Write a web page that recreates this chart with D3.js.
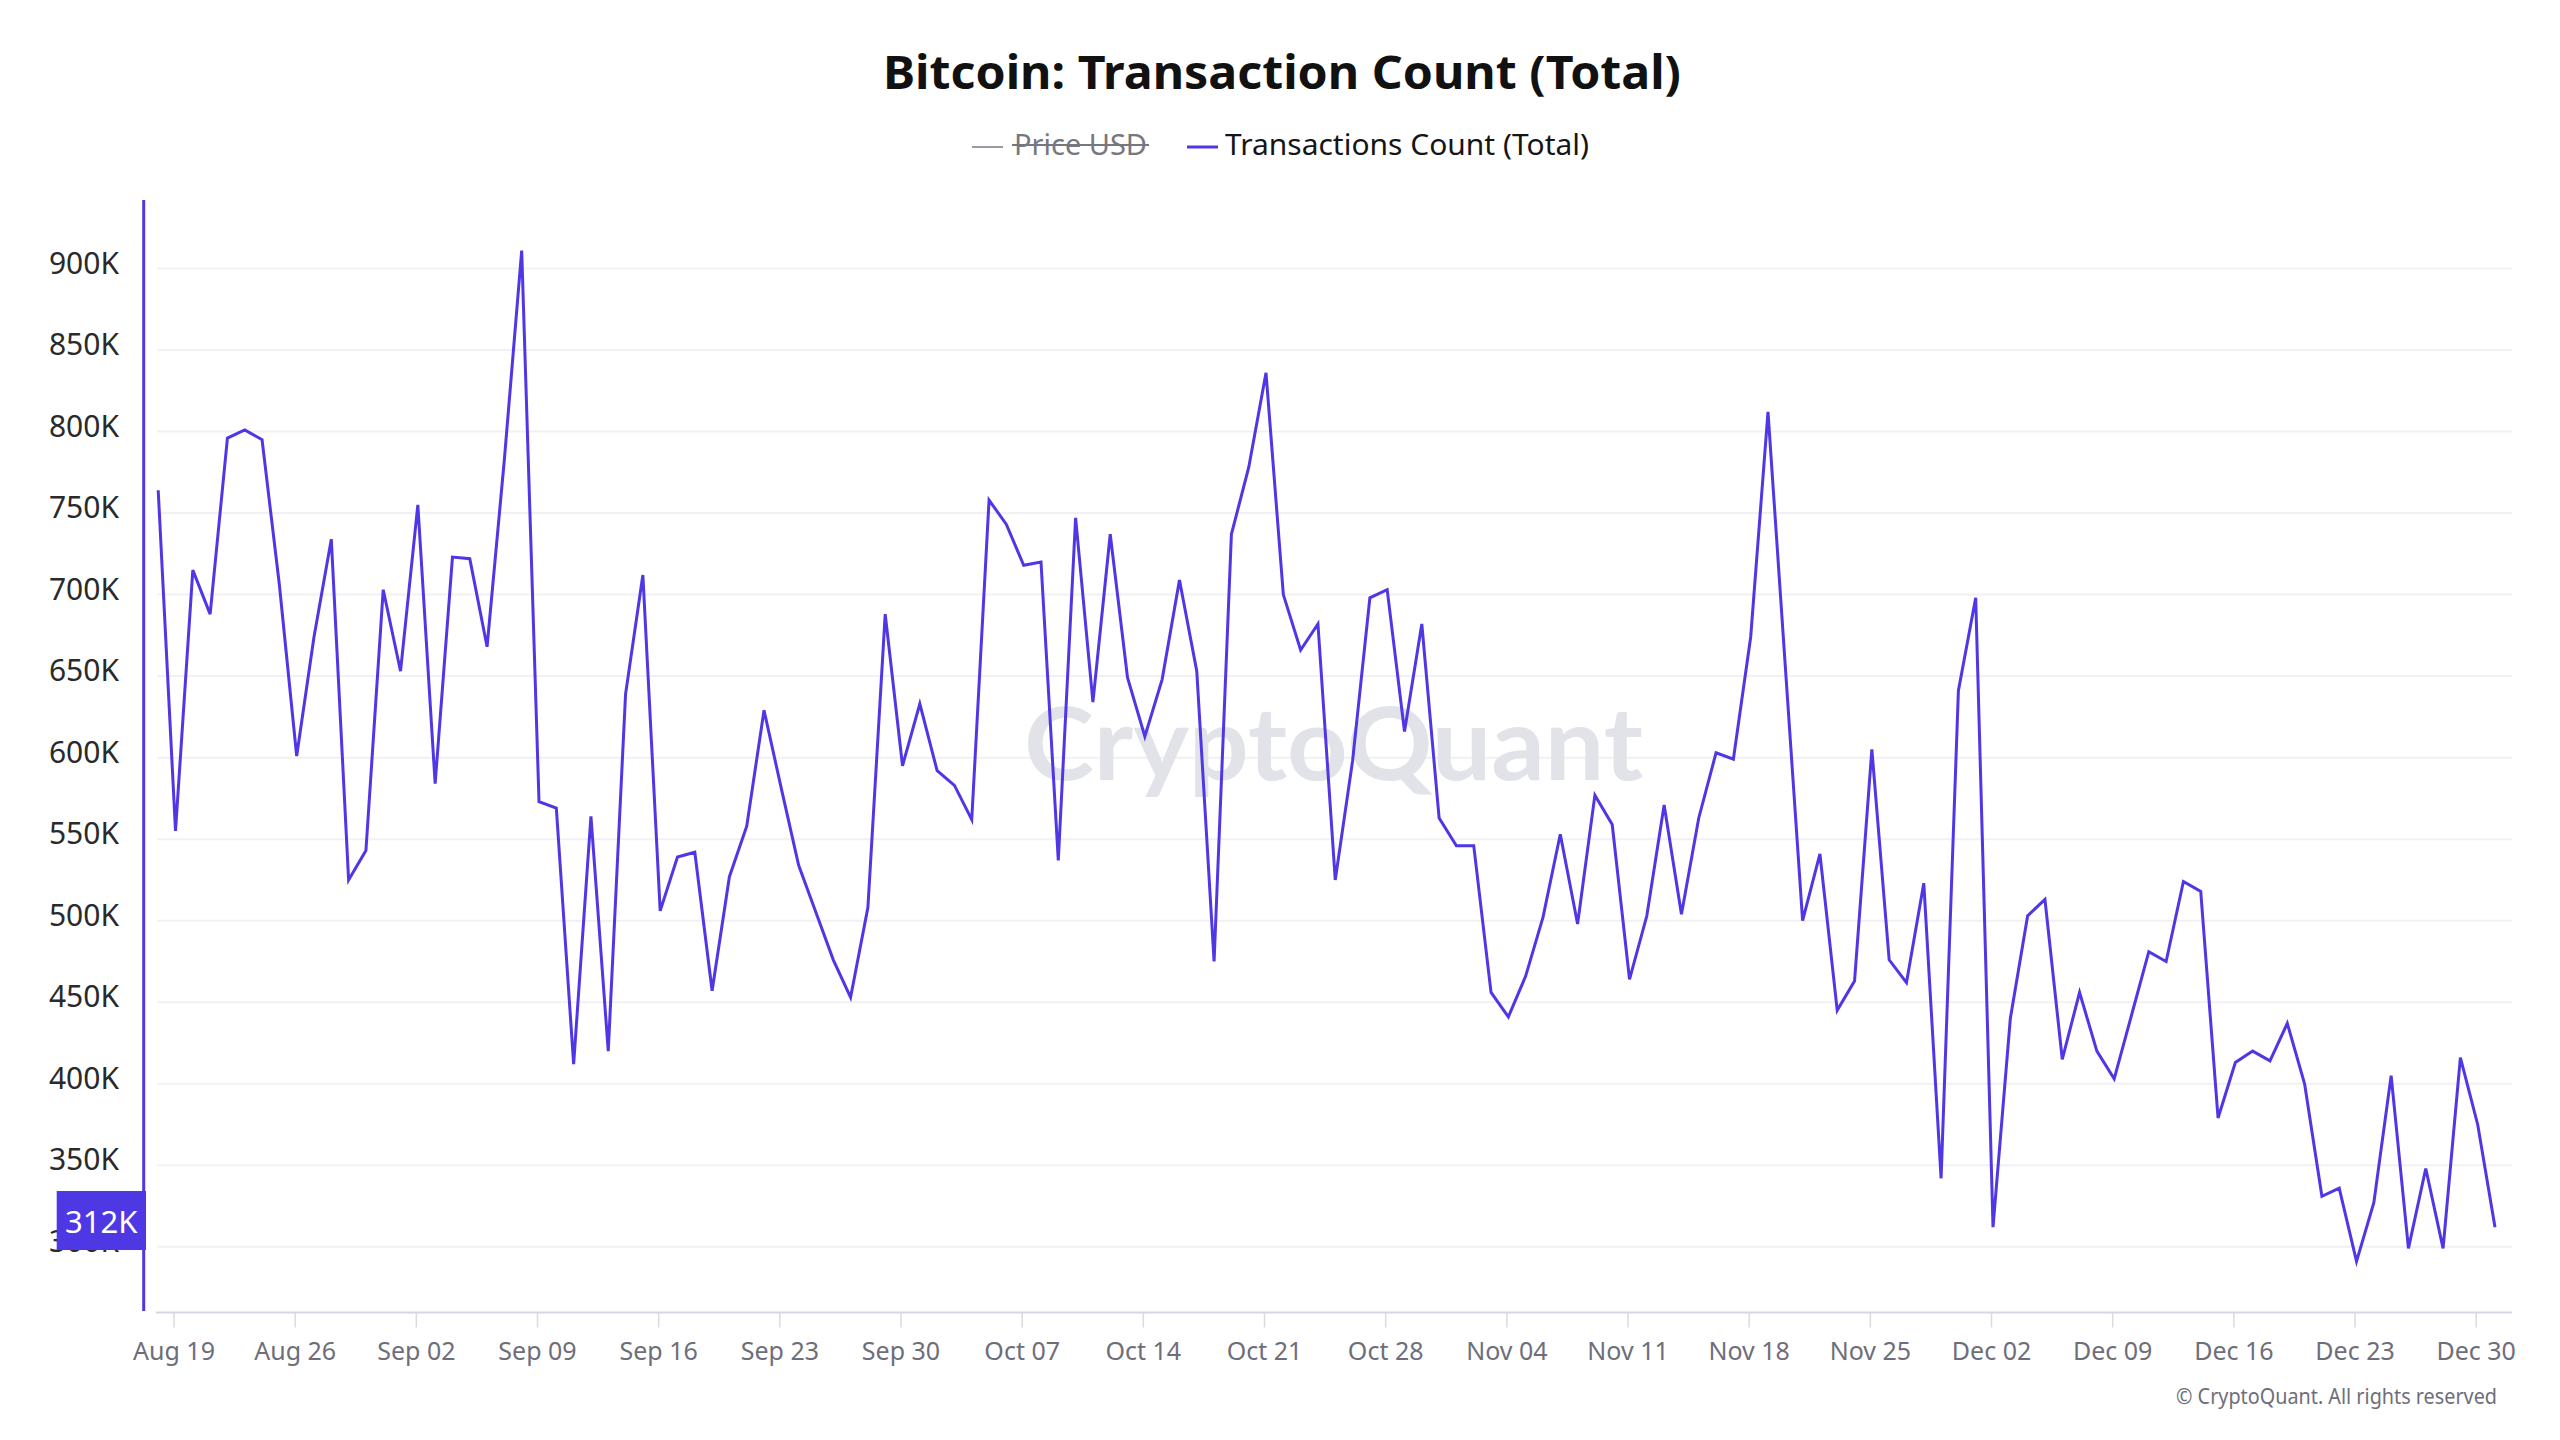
<!DOCTYPE html>
<html>
<head>
<meta charset="utf-8">
<script src="https://cdn.jsdelivr.net/npm/d3@7"></script>
<style>
  html, body { margin: 0; padding: 0; background: #ffffff; }
  svg { display: block; font-family: "Noto Sans", "Open Sans", sans-serif; }
</style>
</head>
<body>
<svg id="chart" width="2560" height="1440"></svg>
<script>
// ---------------- data ----------------
const titleText = "Bitcoin: Transaction Count (Total)";
const legendLabels = ["Price USD", "Transactions Count (Total)"];
const startDate = "2024-08-18";
const endDate = "2025-01-01"; // exclusive
// daily transaction count, thousands (Aug 18 .. Dec 31, 2024)
const txAug = [764, 555, 715, 688, 796, 801, 795, 706, 601, 674, 734, 525, 543, 703];
const txSep = [653, 755, 584, 723, 722, 668, 783, 911, 573, 569, 412, 564, 420, 639, 712,
               506, 539, 542, 457, 527, 558, 629, 581, 534, 505, 476, 453, 508, 688, 595];
const txOct = [633, 592, 583, 562, 758, 743, 718, 720, 537, 747, 634, 737, 649, 613, 648,
               709, 653, 475, 737, 778, 836, 700, 666, 682, 525, 598, 698, 703, 616, 682, 563];
const txNov = [546, 546, 456, 441, 466, 502, 553, 498, 577, 559, 464, 503, 571, 504, 563,
               603, 599, 674, 812, 656, 500, 541, 445, 463, 605, 476, 462, 523, 342, 641];
const txDec = [698, 312, 440, 503, 513, 415, 456, 420, 403, 442, 481, 475, 524, 518, 379,
               413, 420, 414, 437, 400, 331, 336, 291, 327, 405, 299, 348, 299, 416, 375, 312];
const xTickLabels = ["Aug 19","Aug 26","Sep 02","Sep 09","Sep 16","Sep 23","Sep 30","Oct 07","Oct 14",
  "Oct 21","Oct 28","Nov 04","Nov 11","Nov 18","Nov 25","Dec 02","Dec 09","Dec 16","Dec 23","Dec 30"];
const yTickValues = [300, 350, 400, 450, 500, 550, 600, 650, 700, 750, 800, 850, 900];
const yTickLabels = ["300K","350K","400K","450K","500K","550K","600K","650K","700K","750K","800K","850K","900K"];
const footerText = "\u00A9 CryptoQuant. All rights reserved";
const watermarkText = "CryptoQuant";

// ---------------- build ----------------
const LINE = "#4f37e6";
const parse = d3.utcParse("%Y-%m-%d");
const days = d3.utcDay.range(parse(startDate), parse(endDate));
const values = [].concat(txAug, txSep, txOct, txNov, txDec);
const data = days.map((d, i) => ({ date: d, value: values[i] }));

const svg = d3.select("#chart");

const x = d3.scaleUtc()
  .domain([parse("2024-08-18"), parse("2024-12-31")])
  .range([156.2, 2493]);

const [vmin, vmax] = d3.extent(values);
const pad = (vmax - vmin) * 0.05;
const y = d3.scaleLinear()
  .domain([vmin - pad, vmax + pad])
  .range([1312, 200]);

const plotLeft = 157, plotRight = 2512;

// gridlines
svg.append("g")
  .selectAll("line")
  .data(yTickValues)
  .join("line")
  .attr("x1", plotLeft).attr("x2", plotRight)
  .attr("y1", d => y(d)).attr("y2", d => y(d))
  .attr("stroke", "#f1f1f4").attr("stroke-width", 2);

// watermark
svg.append("text")
  .attr("x", 1024).attr("y", 780)
  .attr("textLength", 619).attr("lengthAdjust", "spacingAndGlyphs")
  .attr("font-family", "Lato, 'Noto Sans', sans-serif")
  .attr("font-weight", 700)
  .attr("font-size", 102)
  .attr("fill", "#e2e2e9")
  .text(watermarkText);

// x axis
const xTickDates = xTickLabels.map(s => d3.utcParse("%Y %b %d")("2024 " + s));
const xAxis = d3.axisBottom(x)
  .tickValues(xTickDates)
  .tickFormat((d, i) => xTickLabels[i])
  .tickSize(15)
  .tickSizeOuter(0)
  .tickPadding(15);
const gx = svg.append("g")
  .attr("transform", "translate(0,1312.5)")
  .call(xAxis);
gx.select(".domain").remove();
gx.append("line")
  .attr("x1", 156).attr("x2", plotRight).attr("y1", 0).attr("y2", 0)
  .attr("stroke", "#d6d6e0").attr("stroke-width", 2);
gx.selectAll(".tick line").attr("stroke", "#dadae0").attr("stroke-width", 1.5);
gx.selectAll(".tick text")
  .attr("fill", "#6e6e7a")
  .attr("font-size", 25)
  .attr("font-family", "'Noto Sans', sans-serif");

// y axis labels
const yAxis = d3.axisLeft(y)
  .tickValues(yTickValues)
  .tickFormat((d, i) => yTickLabels[i])
  .tickSize(0)
  .tickPadding(0);
const gy = svg.append("g")
  .attr("transform", "translate(119,-5)")
  .call(yAxis);
gy.select(".domain").remove();
gy.selectAll(".tick text")
  .attr("fill", "#2a2a2a")
  .attr("font-size", 30)
  .attr("font-family", "'Noto Sans', sans-serif");

// vertical axis line (series colour)
svg.append("line")
  .attr("x1", 143.7).attr("x2", 143.7)
  .attr("y1", y.range()[1]).attr("y2", 1311)
  .attr("stroke", LINE).attr("stroke-width", 3);

// series line
const line = d3.line()
  .x(d => x(d.date) + 2)
  .y(d => y(d.value));
svg.append("path")
  .datum(data)
  .attr("d", line)
  .attr("fill", "none")
  .attr("stroke", LINE)
  .attr("stroke-width", 3)
  .attr("stroke-linejoin", "miter");

// last value label
const last = data[data.length - 1];
const ly = y(last.value) - 6.7;
svg.append("rect")
  .attr("x", 56.7).attr("y", ly - 29.5)
  .attr("width", 89.3).attr("height", 59)
  .attr("fill", "#4e38e4");
svg.append("text")
  .attr("x", 101.3).attr("y", ly)
  .attr("text-anchor", "middle")
  .attr("dominant-baseline", "central")
  .attr("fill", "#ffffff")
  .attr("font-size", 31)
  .text(d3.format(".0f")(last.value) + "K");

// title
svg.append("text")
  .attr("x", 1282).attr("y", 89)
  .attr("text-anchor", "middle")
  .attr("textLength", 798).attr("lengthAdjust", "spacingAndGlyphs")
  .attr("font-weight", 700)
  .attr("font-size", 46)
  .attr("fill", "#111111")
  .text(titleText);

// legend
const lg = svg.append("g");
lg.append("line")
  .attr("x1", 972).attr("x2", 1003).attr("y1", 147).attr("y2", 147)
  .attr("stroke", "#9a9aa2").attr("stroke-width", 2);
lg.append("text")
  .attr("x", 1014).attr("y", 155)
  .attr("textLength", 133).attr("lengthAdjust", "spacingAndGlyphs")
  .attr("font-size", 29).attr("fill", "#77777f")
  .text(legendLabels[0]);
lg.append("line")
  .attr("x1", 1012).attr("x2", 1149).attr("y1", 145).attr("y2", 145)
  .attr("stroke", "#77777f").attr("stroke-width", 2);
lg.append("line")
  .attr("x1", 1187).attr("x2", 1218).attr("y1", 147).attr("y2", 147)
  .attr("stroke", LINE).attr("stroke-width", 3);
lg.append("text")
  .attr("x", 1225).attr("y", 155)
  .attr("textLength", 364).attr("lengthAdjust", "spacingAndGlyphs")
  .attr("font-size", 29).attr("fill", "#151515")
  .text(legendLabels[1]);

// footer
svg.append("text")
  .attr("x", 2497).attr("y", 1404)
  .attr("text-anchor", "end")
  .attr("textLength", 321).attr("lengthAdjust", "spacingAndGlyphs")
  .attr("font-size", 22).attr("fill", "#6e6e7a")
  .text(footerText);
</script>
</body>
</html>
